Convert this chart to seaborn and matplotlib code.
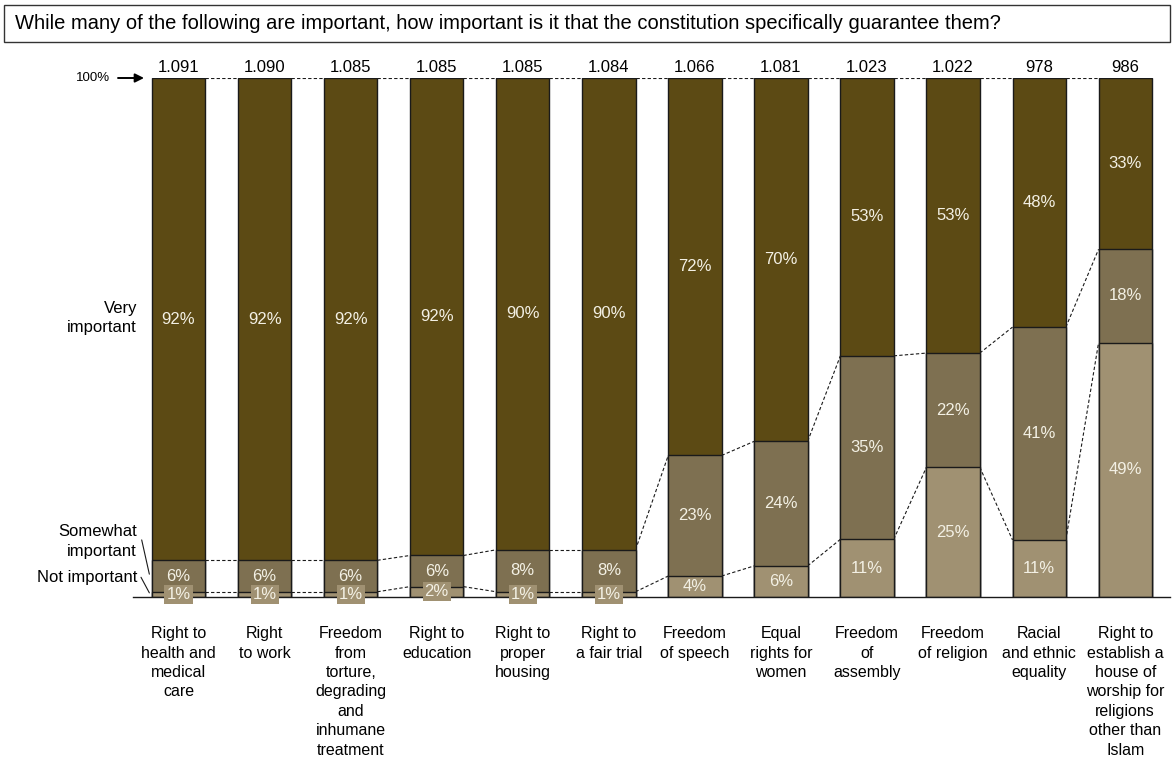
import matplotlib
matplotlib.use("Agg")
import matplotlib.pyplot as plt
from matplotlib.patches import Rectangle
import pandas as pd
import seaborn as sns

sns.set_theme(style="white")
plt.rcParams["font.family"] = ["Liberation Sans", "DejaVu Sans"]

categories = [
    "Right to\nhealth and\nmedical\ncare",
    "Right\nto work",
    "Freedom\nfrom\ntorture,\ndegrading\nand\ninhumane\ntreatment",
    "Right to\neducation",
    "Right to\nproper\nhousing",
    "Right to\na fair trial",
    "Freedom\nof speech",
    "Equal\nrights for\nwomen",
    "Freedom\nof\nassembly",
    "Freedom\nof religion",
    "Racial\nand ethnic\nequality",
    "Right to\nestablish a\nhouse of\nworship for\nreligions\nother than\nIslam",
]
sample_sizes = ["1.091", "1.090", "1.085", "1.085", "1.085", "1.084",
                "1.066", "1.081", "1.023", "1.022", "978", "986"]
very_important = [92, 92, 92, 92, 90, 90, 72, 70, 53, 53, 48, 33]
somewhat_important = [6, 6, 6, 6, 8, 8, 23, 24, 35, 22, 41, 18]
not_important = [1, 1, 1, 2, 1, 1, 4, 6, 11, 25, 11, 49]

DARK = "#5C4A14"
MID = "#7E7051"
LIGHT = "#A09172"
LABEL_COLOR = "#F3F0E4"
BAR_W = 0.62

# shares scaled so each bar fills 100%
df = pd.DataFrame({
    "item": categories,
    "very": very_important,
    "some": somewhat_important,
    "not": not_important,
})
tot = df["very"] + df["some"] + df["not"]
df["not_s"] = df["not"] / tot * 100
df["some_s"] = df["some"] / tot * 100
df["very_s"] = df["very"] / tot * 100
df["cum_not"] = df["not_s"]
df["cum_some"] = df["not_s"] + df["some_s"]
df["cum_all"] = df["cum_some"] + df["very_s"]

fig = plt.figure(figsize=(11.76, 7.61), dpi=100)
ax = fig.add_axes([133 / 1176, 1 - 597 / 761, (1170 - 133) / 1176, (597 - 78) / 761])

for col, colr in [("cum_all", DARK), ("cum_some", MID), ("cum_not", LIGHT)]:
    sns.barplot(data=df, x="item", y=col, color=colr, width=BAR_W,
                edgecolor="#1a1a1a", linewidth=1.0, errorbar=None,
                saturation=1, ax=ax, zorder=2)

ax.set_xlim(-0.529, 11.52)
ax.set_ylim(0, 100)
ax.set_xlabel("")
ax.set_ylabel("")
ax.set_yticks([])
for s in ["top", "right", "left"]:
    ax.spines[s].set_visible(False)
ax.spines["bottom"].set_color("#1a1a1a")
ax.spines["bottom"].set_linewidth(1.0)
ax.spines["bottom"].set_zorder(3)
ax.tick_params(axis="x", length=0, pad=21)
ax.set_xticks(range(len(categories)))
ax.set_xticklabels(categories, fontsize=11.5, color="black", va="top",
                   ha="center", multialignment="center", linespacing=1.37)

# dashed connectors between neighbouring bars
n = len(categories)
for i in range(n - 1):
    for col in ["cum_not", "cum_some", "cum_all"]:
        ax.plot([i + BAR_W / 2, i + 1 - BAR_W / 2],
                [df[col][i], df[col][i + 1]],
                color="#1a1a1a", lw=0.8, ls=(0, (3, 2)), zorder=1)

# segment values
for i in range(n):
    segs = [
        (df["not_s"][i] / 2, not_important[i]),
        (df["cum_not"][i] + df["some_s"][i] / 2, somewhat_important[i]),
        (df["cum_some"][i] + df["very_s"][i] / 2, very_important[i]),
    ]
    for y, v in segs:
        kw = {}
        if v < 3:
            kw["bbox"] = dict(boxstyle="square,pad=0.12", fc=LIGHT, ec="none")
        ax.text(i, y, f"{v}%", ha="center", va="center", fontsize=12,
                color=LABEL_COLOR, zorder=5, **kw)
    ax.text(i, 100.6, sample_sizes[i], ha="center", va="bottom",
            fontsize=12, color="black")

# left-side annotations
ax.annotate("", xy=(-0.401, 100), xytext=(-0.703, 100),
            arrowprops=dict(arrowstyle="-|>", color="black", lw=1.4,
                            mutation_scale=13, shrinkA=0, shrinkB=0),
            annotation_clip=False)
ax.text(-0.795, 100, "100%", ha="right", va="center", fontsize=9.5,
        color="black", clip_on=False)
ax.text(-0.482, 53.8, "Very\nimportant", ha="right", va="center",
        fontsize=12, color="black", linespacing=1.3)
ax.text(-0.482, 10.7, "Somewhat\nimportant", ha="right", va="center",
        fontsize=12, color="black", linespacing=1.35)
ax.text(-0.482, 3.85, "Not important", ha="right", va="center",
        fontsize=12, color="black")
ax.plot([-0.428, -0.339], [11.0, 4.4], color="#1a1a1a", lw=0.8, clip_on=False)
ax.plot([-0.436, -0.339], [3.8, 0.8], color="#1a1a1a", lw=0.8, clip_on=False)

# question box at the top
fig.patches.append(Rectangle((4 / 1176, 1 - 42 / 761), (1170 - 4) / 1176,
                             37 / 761, transform=fig.transFigure,
                             fill=False, ec="#333333", lw=1.0))
fig.text(15 / 1176, 1 - 23.5 / 761,
         "While many of the following are important, how important is it that the constitution specifically guarantee them?",
         ha="left", va="center", fontsize=14.5, color="black")

fig.savefig("out.png", dpi=100)
